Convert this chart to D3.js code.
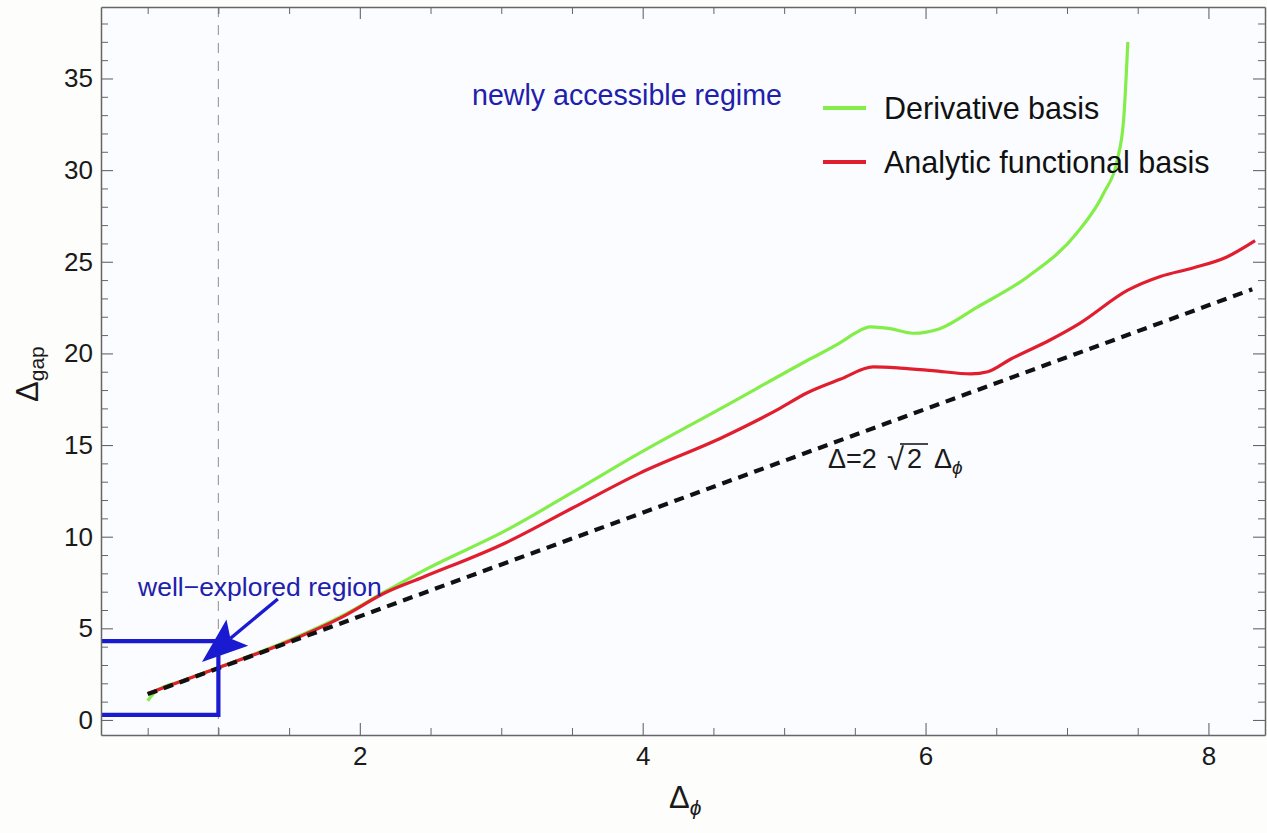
<!DOCTYPE html>
<html>
<head>
<meta charset="utf-8">
<script src="https://cdn.jsdelivr.net/npm/d3@7"></script>
<style>
  body { margin: 0; background: #fdfdfb; }
  svg { display: block; font-family: "Liberation Sans", Arial, sans-serif; }
</style>
</head>
<body>
<svg id="chart" width="1267" height="833"></svg>
<script>
// values
const derivX = [0.5, 0.56, 0.75, 1.0, 1.5, 1.86, 2.19, 2.45, 3.04, 3.5, 3.98, 4.57, 5.16, 5.4, 5.5, 5.61, 5.75, 5.91, 6.1, 6.36, 6.72, 7.07, 7.26, 7.355, 7.40, 7.43];
const derivY = [1.05, 1.58, 2.15, 2.86, 4.35, 5.62, 7.05, 8.15, 10.37, 12.4, 14.57, 17.07, 19.6, 20.6, 21.1, 21.45, 21.35, 21.1, 21.35, 22.5, 24.17, 26.57, 28.75, 30.55, 32.7, 37.0];
const analX = [0.5, 1.0, 1.5, 1.86, 2.19, 2.45, 3.04, 3.5, 3.98, 4.57, 4.97, 5.16, 5.4, 5.63, 5.82, 6.05, 6.32, 6.44, 6.6, 6.88, 7.09, 7.43, 7.66, 7.89, 8.13, 8.33];
const analY = [1.45, 2.85, 4.3, 5.56, 6.98, 7.8, 9.7, 11.55, 13.47, 15.44, 17.0, 17.84, 18.6, 19.26, 19.2, 19.06, 18.88, 19.0, 19.68, 20.73, 21.64, 23.45, 24.2, 24.66, 25.26, 26.15];
const boundX = [0.5, 8.31];
const boundY = [1.41, 23.5];
const boxX = [0.17, 1.0, 1.0, 0.17];
const boxY = [4.3, 4.3, 0.28, 0.28];
const arrowFrom = [1.42, 6.6];
const arrowTo = [0.884, 3.16];
const xMajor = [2, 4, 6, 8];
const yMajor = [0, 5, 10, 15, 20, 25, 30, 35];
const legendNames = ["Derivative basis", "Analytic functional basis"];
const legendColors = ["#84ee48", "#e01e2e"];

const svg = d3.select("#chart");
const L = 101, T = 7, R = 1265, B = 735;

const x = d3.scaleLinear().domain([0.17, 8.4]).range([L, R]);
const y = d3.scaleLinear().domain([-0.82, 38.9]).range([B, T]);

svg.append("rect").attr("x", L).attr("y", T).attr("width", R - L).attr("height", B - T).attr("fill", "#fbfcff");

svg.append("clipPath").attr("id", "clip")
    .append("rect").attr("x", L).attr("y", T).attr("width", R - L).attr("height", B - T);

const plot = svg.append("g").attr("clip-path", "url(#clip)");

// gray dashed marker at Δφ = 1
plot.append("line")
    .attr("x1", x(1)).attr("x2", x(1)).attr("y1", T).attr("y2", B)
    .attr("stroke", "#a0a0a0").attr("stroke-width", 1.2).attr("stroke-dasharray", "10,8");

const line = d3.line().x(d => x(d[0])).y(d => y(d[1])).curve(d3.curveMonotoneX);

plot.append("path")
    .datum(derivX.map((v, i) => [v, derivY[i]]))
    .attr("d", line).attr("fill", "none")
    .attr("stroke", legendColors[0]).attr("stroke-width", 3.2);

plot.append("path")
    .datum(analX.map((v, i) => [v, analY[i]]))
    .attr("d", line).attr("fill", "none")
    .attr("stroke", legendColors[1]).attr("stroke-width", 3.2);

plot.append("path")
    .datum(boundX.map((v, i) => [v, boundY[i]]))
    .attr("d", d3.line().x(d => x(d[0])).y(d => y(d[1])))
    .attr("fill", "none").attr("stroke", "#111").attr("stroke-width", 4.2)
    .attr("stroke-dasharray", "10,7");

// blue box for the well-explored region
plot.append("path")
    .datum(boxX.map((v, i) => [v, boxY[i]]))
    .attr("d", d3.line().x(d => x(d[0])).y(d => y(d[1])))
    .attr("fill", "none").attr("stroke", "#1a1ad0").attr("stroke-width", 4.2);

// arrow
const ax0 = x(arrowFrom[0]), ay0 = y(arrowFrom[1]);
const ax1 = x(arrowTo[0]), ay1 = y(arrowTo[1]);
const len = Math.hypot(ax1 - ax0, ay1 - ay0);
const ux = (ax1 - ax0) / len, uy = (ay1 - ay0) / len;
const headL = 46, headW = 17;
svg.append("line")
    .attr("x1", ax0).attr("y1", ay0)
    .attr("x2", ax1 - ux * headL * 0.8).attr("y2", ay1 - uy * headL * 0.8)
    .attr("stroke", "#1a1ad0").attr("stroke-width", 3.4);
const bx = ax1 - ux * headL, by = ay1 - uy * headL;
const nx = bx + ux * 9, ny = by + uy * 9;
svg.append("path")
    .attr("d", `M${ax1},${ay1}L${bx - uy * headW},${by + ux * headW}L${nx},${ny}L${bx + uy * headW},${by - ux * headW}Z`)
    .attr("fill", "#1a1ad0");

// axes with inward ticks
const axisColor = "#666";
function axis(kind, sc, tx, ty, major, minor, labels, pad) {
    const make = () => kind === "b" ? d3.axisBottom(sc) : kind === "t" ? d3.axisTop(sc) : kind === "l" ? d3.axisLeft(sc) : d3.axisRight(sc);
    const gMin = svg.append("g").attr("transform", `translate(${tx},${ty})`)
        .call(make().tickValues(minor).tickSize(-7).tickFormat(""));
    gMin.select(".domain").remove();
    gMin.selectAll("line").attr("stroke", axisColor).attr("stroke-width", 1);
    const gMaj = svg.append("g").attr("transform", `translate(${tx},${ty})`)
        .call(make().tickValues(major).tickSize(-12).tickSizeOuter(0).tickPadding(pad)
            .tickFormat(labels ? d => d : ""));
    gMaj.select(".domain").attr("stroke", axisColor).attr("stroke-width", 1.5);
    gMaj.selectAll("line").attr("stroke", axisColor).attr("stroke-width", 1.1);
    gMaj.selectAll("text").attr("font-size", 26).attr("fill", "#1a1a1a")
        .attr("font-family", "'Liberation Sans', Arial, sans-serif");
    return gMaj;
}

const xMinor = d3.range(0.5, 8.4, 0.5).filter(v => !xMajor.includes(v));
const yMinor = d3.range(0, 39, 1).filter(v => !yMajor.includes(v));

axis("b", x, 0, B, xMajor, xMinor, true, 12);
axis("t", x, 0, T, xMajor, xMinor, false, 0);
axis("l", y, L, 0, yMajor, yMinor, true, 8);
axis("r", y, R, 0, yMajor, yMinor, false, 0);

// axis titles
const xt = svg.append("text").attr("x", 669).attr("y", 808).attr("font-size", 31).attr("fill", "#1a1a1a");
xt.append("tspan").text("Δ");
xt.append("tspan").text("ϕ").attr("font-size", 21).attr("font-style", "italic").attr("dy", 7);

const yt = svg.append("text").attr("transform", "translate(38,402) rotate(-90)")
    .attr("font-size", 31).attr("fill", "#1a1a1a");
yt.append("tspan").text("Δ");
yt.append("tspan").text("gap").attr("font-size", 21).attr("dy", 6);

// annotations
svg.append("text").attr("x", 472).attr("y", 105).attr("font-size", 28.6).attr("fill", "#2020ac")
    .text("newly accessible regime");
svg.append("text").attr("x", 138).attr("y", 596).attr("font-size", 26.5).attr("fill", "#2020ac")
    .text("well\u2212explored region");

// formula label  Δ=2 √2 Δϕ
const f = svg.append("g").attr("transform", "translate(828,468)").attr("fill", "#1a1a1a");
f.append("text").attr("x", 0).attr("font-size", 27).text("Δ=2");
f.append("text").attr("x", 59).attr("y", 2).attr("font-size", 31).text("√");
f.append("text").attr("x", 79).attr("font-size", 27).text("2");
f.append("line").attr("x1", 72).attr("x2", 100).attr("y1", -24).attr("y2", -24)
    .attr("stroke", "#1a1a1a").attr("stroke-width", 1.6);
const f4 = f.append("text").attr("x", 106).attr("font-size", 27);
f4.append("tspan").text("Δ");
f4.append("tspan").text("ϕ").attr("font-size", 19).attr("font-style", "italic").attr("dy", 6);

// legend
const leg = svg.append("g");
legendNames.forEach((name, i) => {
    const yy = 108 + i * 54;
    leg.append("line").attr("x1", 823).attr("x2", 866).attr("y1", yy).attr("y2", yy)
        .attr("stroke", legendColors[i]).attr("stroke-width", 4);
    leg.append("text").attr("x", 884).attr("y", yy + 11).attr("font-size", 30.5)
        .attr("fill", "#111").text(name);
});
</script>
</body>
</html>
